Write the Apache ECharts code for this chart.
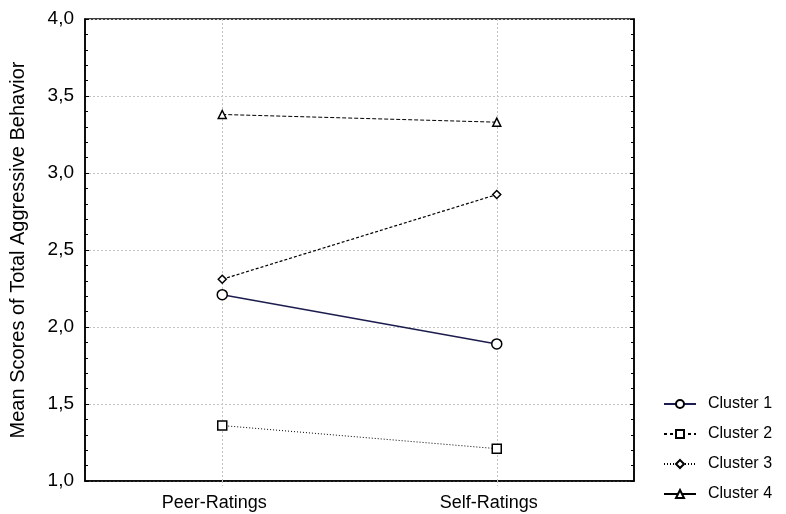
<!DOCTYPE html>
<html>
<head>
<meta charset="utf-8">
<script src="https://cdn.jsdelivr.net/npm/echarts@6/dist/echarts.min.js"></script>
<style>
  html, body { margin: 0; padding: 0; background: #fff; }
  #chart { width: 786px; height: 514px; }
</style>
</head>
<body>
<div id="chart"></div>
<script>
var categories = ['Peer-Ratings', 'Self-Ratings'];
var seriesNames = ['Cluster 1', 'Cluster 2', 'Cluster 3', 'Cluster 4'];
var cluster1 = [2.21, 1.89];
var cluster2 = [1.36, 1.21];
var cluster3 = [2.31, 2.86];
var cluster4 = [3.38, 3.33];
var yTicks = [1.0, 1.5, 2.0, 2.5, 3.0, 3.5, 4.0];

var font = 'Liberation Sans, Arial, sans-serif';
var gridGray = '#c4c4c4';

function fmt(v) {
    return v.toFixed(1).replace('.', ',');
}

function makeSeries(name, data, symbol, size, color, width, dash) {
    return {
        name: name,
        type: 'line',
        data: data,
        symbol: symbol,
        symbolSize: size,
        showSymbol: true,
        lineStyle: { color: color, width: width, type: dash },
        itemStyle: { color: '#fff', borderColor: '#000', borderWidth: 1.5 },
        emphasis: { disabled: true },
        z: 5
    };
}

var lines = [
    makeSeries(seriesNames[0], cluster1, 'circle', 10, '#1c1c4e', 1.5, 'solid'),
    makeSeries(seriesNames[1], cluster2, 'rect', 9, '#000', 1, [1, 2]),
    makeSeries(seriesNames[2], cluster3, 'diamond', 8, '#000', 1.2, [3, 2]),
    makeSeries(seriesNames[3], cluster4, 'triangle', 8, '#000', 1, [4, 2])
];

// vertical dotted grid lines through the category centres
lines.push({
    name: 'vgrid',
    type: 'line',
    data: [],
    silent: true,
    z: 1,
    markLine: {
        silent: true,
        symbol: 'none',
        label: { show: false },
        lineStyle: { color: gridGray, type: [2, 2], width: 1 },
        data: categories.map(function (c) { return { xAxis: c }; })
    }
});

var myChart = echarts.init(document.getElementById('chart'), null, { renderer: 'canvas' });
var option = {
    animation: false,
    backgroundColor: '#fff',
    textStyle: { fontFamily: font },
    grid: {
        left: 83, top: 19, width: 551, height: 462,
        show: true, borderColor: '#000', borderWidth: 1.5, backgroundColor: 'transparent'
    },
    legend: {
        orient: 'vertical',
        left: 658, top: 391,
        itemWidth: 32, itemHeight: 10,
        itemGap: 14,
        textStyle: { fontSize: 16, lineHeight: 16, color: '#000', fontFamily: font, padding: [0, 0, 0, 7] },
        data: [
            { name: seriesNames[0], lineStyle: { type: 'solid' } },
            { name: seriesNames[1], lineStyle: { type: [3, 3] } },
            { name: seriesNames[2], lineStyle: { type: [1, 2] } },
            { name: seriesNames[3], lineStyle: { type: 'solid' } }
        ]
    },
    xAxis: {
        type: 'category',
        data: categories,
        boundaryGap: true,
        axisLine: { lineStyle: { color: '#000', width: 1.5 } },
        axisTick: { show: true, alignWithLabel: true, length: 5, lineStyle: { color: gridGray, type: [2, 2] } },
        axisLabel: { fontSize: 18, color: '#000', margin: 13, fontFamily: font, padding: [0, 16, 0, 0] },
        splitLine: { show: false }
    },
    yAxis: [{
        type: 'value',
        min: yTicks[0], max: yTicks[yTicks.length - 1], interval: 0.5,
        name: 'Mean Scores of Total Aggressive Behavior',
        nameLocation: 'middle', nameGap: 57, nameRotate: 90,
        nameTextStyle: { fontSize: 20, color: '#000', fontFamily: font },
        axisLine: { show: true, lineStyle: { color: '#000', width: 1.5 } },
        axisTick: { show: true, inside: true, length: 4, lineStyle: { color: '#000' } },
        minorTick: { show: true, splitNumber: 5, length: 3, lineStyle: { color: '#000' } },
        axisLabel: { fontSize: 19, color: '#000', margin: 11, formatter: fmt, fontFamily: font },
        splitLine: { show: true, lineStyle: { color: gridGray, type: [2, 2], width: 1 } }
    }, {
        type: 'value',
        position: 'right',
        min: yTicks[0], max: yTicks[yTicks.length - 1], interval: 0.5,
        axisLine: { show: true, lineStyle: { color: '#000', width: 1.5 } },
        axisTick: { show: true, inside: true, length: 4, lineStyle: { color: '#000' } },
        minorTick: { show: true, splitNumber: 5, length: 3, lineStyle: { color: '#000' } },
        axisLabel: { show: false },
        splitLine: { show: false }
    }],
    series: lines
};
myChart.setOption(option);
window.addEventListener('resize', function () {
    myChart.resize();
});
</script>
</body>
</html>
